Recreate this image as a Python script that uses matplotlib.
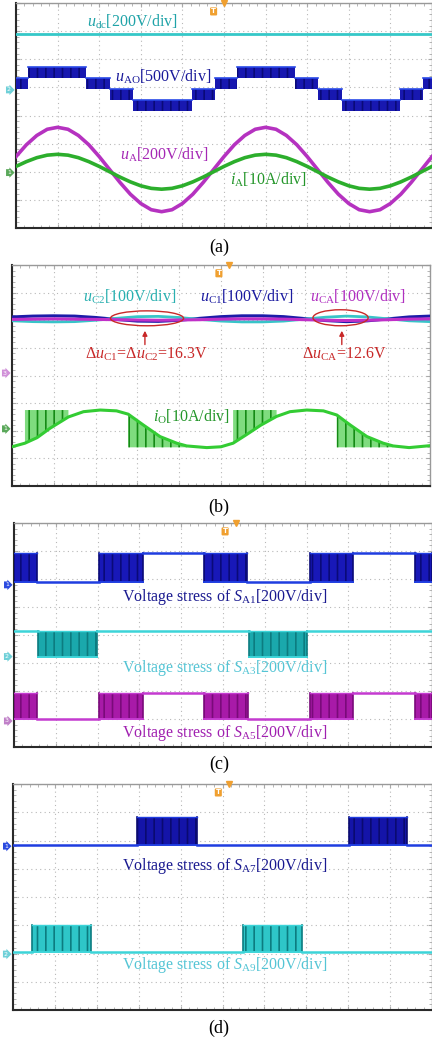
import numpy as np
import matplotlib
matplotlib.use('Agg')
import matplotlib.pyplot as plt
from matplotlib.patches import Ellipse

plt.rcParams['font.family'] = ['Liberation Serif', 'DejaVu Serif']
plt.rcParams['mathtext.fontset'] = 'custom'
plt.rcParams['mathtext.rm'] = 'Liberation Serif'
plt.rcParams['mathtext.it'] = 'Liberation Serif:italic'
plt.rcParams['mathtext.bf'] = 'Liberation Serif:bold'
plt.rcParams['hatch.linewidth'] = 1.2

# ---------------- data (screen divisions) ----------------
# panel (a)
a_x = np.arange(0, 10.001, 0.25)
udc_level = 6.9
uA_vals = [2.54, 2.96, 3.29, 3.51, 3.58, 3.51, 3.29, 2.96, 2.54, 2.08,
           1.62, 1.20, 0.87, 0.65, 0.58, 0.65, 0.87, 1.20, 1.62, 2.08,
           2.54, 2.96, 3.29, 3.51, 3.58, 3.51, 3.29, 2.96, 2.54, 2.08,
           1.62, 1.20, 0.87, 0.65, 0.58, 0.65, 0.87, 1.20, 1.62, 2.08, 2.54]
iA_vals = [2.19, 2.36, 2.50, 2.59, 2.62, 2.59, 2.50, 2.36, 2.19, 2.00,
           1.81, 1.64, 1.50, 1.41, 1.38, 1.41, 1.50, 1.64, 1.81, 2.00,
           2.19, 2.36, 2.50, 2.59, 2.62, 2.59, 2.50, 2.36, 2.19, 2.00,
           1.81, 1.64, 1.50, 1.41, 1.38, 1.41, 1.50, 1.64, 1.81, 2.00, 2.19]
uao_levels = [4.15, 4.55, 4.93, 5.33, 5.72]
uao_edges = [0, 0.29, 1.68, 2.26, 2.81, 4.23, 4.78, 5.31, 6.71, 7.26, 7.83, 9.23, 9.78, 10]
uao_lower = [2, 3, 2, 1, 0, 1, 2, 3, 2, 1, 0, 1, 2]

# panel (b)
b_x = np.arange(0, 10.001, 0.5)
uC1_vals = [6.12, 6.15, 6.16, 6.15, 6.10, 6.03, 5.97, 5.96, 6.00, 6.07, 6.13,
            6.16, 6.16, 6.13, 6.06, 5.99, 5.95, 5.98, 6.05, 6.12, 6.15]
uC2_vals = [5.98, 5.95, 5.94, 5.95, 6.00, 6.07, 6.13, 6.14, 6.10, 6.03, 5.97,
            5.94, 5.94, 5.97, 6.04, 6.11, 6.15, 6.12, 6.05, 5.98, 5.95]
uCA_vals = [6.03, 6.04, 6.05, 6.04, 6.03, 6.02, 6.01, 6.00, 6.01, 6.02, 6.04,
            6.05, 6.05, 6.04, 6.02, 6.00, 5.99, 6.00, 6.02, 6.04, 6.05]
io_x = [0.0, 0.31, 0.6, 0.91, 1.35, 1.71, 2.11, 2.5, 2.78, 3.14, 3.54, 3.94, 4.18, 4.66, 5.0,
        5.29, 5.6, 5.95, 6.33, 6.65, 7.05, 7.45, 7.77, 8.09, 8.49, 8.88, 9.12, 9.5, 10.0]
io_y = [1.42, 1.55, 1.75, 2.09, 2.50, 2.69, 2.75, 2.72, 2.60, 2.21, 1.79, 1.55, 1.45, 1.39, 1.42,
        1.55, 1.85, 2.20, 2.52, 2.69, 2.75, 2.72, 2.57, 2.21, 1.79, 1.55, 1.45, 1.39, 1.46]
io_rise_bands = [(0.31, 1.35), (5.29, 6.33)]
io_fall_bands = [(2.78, 4.18), (7.77, 9.12)]
io_top, io_bottom = 2.75, 1.40

# panel (c)  states: 0 low, 1 high, 2 switching
sa1_edges = [0, 0.54, 2.04, 3.08, 4.55, 5.58, 7.08, 8.12, 9.59, 10]
sa1_states = [2, 0, 2, 1, 2, 0, 2, 1, 2]
sa1_low, sa1_high = 5.90, 6.94
sa3_edges = [0, 0.58, 1.99, 5.63, 7.02, 10]
sa3_states = [1, 2, 1, 2, 1]
sa3_low, sa3_high = 3.23, 4.15
sa5_edges = [0, 0.56, 2.04, 3.08, 4.55, 5.60, 7.08, 8.12, 9.59, 10]
sa5_states = [2, 0, 2, 1, 2, 0, 2, 1, 2]
sa5_low, sa5_high = 0.99, 1.92

# panel (d)
sa7_edges = [0, 2.97, 4.40, 8.01, 9.41, 10]
sa7_states = [0, 2, 0, 2, 0]
sa7_low, sa7_high = 5.84, 6.84
sa9_edges = [0, 0.46, 1.85, 5.50, 6.89, 10]
sa9_states = [0, 2, 0, 2, 0]
sa9_low, sa9_high = 2.04, 3.01

# ---------------- figure ----------------
W, H = 432, 1042
fig = plt.figure(figsize=(W / 100, H / 100), dpi=100)
FS = 11.5


def make_ax(x0, y0, x1, y1):
    ax = fig.add_axes([x0 / W, 1 - y1 / H, (x1 - x0) / W, (y1 - y0) / H])
    ax.set_xlim(0, 10)
    ax.set_ylim(0, 8)
    ax.set_xticks(range(11))
    ax.set_yticks(range(9))
    ax.set_xticks(np.arange(0, 10.01, 0.2), minor=True)
    ax.set_yticks(np.arange(0, 8.01, 0.2), minor=True)
    ax.grid(True, which='major', ls=(0, (1, 3)), color='#b8b8b8', lw=0.8)
    ax.tick_params(which='both', direction='in', top=True, right=True,
                   labelleft=False, labelbottom=False, color='#aaaaaa')
    ax.tick_params(which='major', length=3, width=0.8)
    ax.tick_params(which='minor', length=2, width=0.6)
    for s in ('left', 'bottom'):
        ax.spines[s].set_color('#2a2a2a')
        ax.spines[s].set_linewidth(1.5)
    for s in ('top', 'right'):
        ax.spines[s].set_color('#999999')
        ax.spines[s].set_linewidth(1.0)
    ax.set_axisbelow(True)
    return ax


def trig(ax, xd):
    ax.text(xd, 7.7, 'T', fontsize=5, color='white', ha='center', va='center',
            fontweight='bold', family='DejaVu Sans',
            bbox=dict(boxstyle='round,pad=0.15', fc='#f0a030', ec='none'), zorder=10)
    ax.plot([xd + 0.25], [8.0], marker='v', ms=5, color='#f0a030', clip_on=False, zorder=10)


def chmark(ax, y, color, label=''):
    ax.text(-0.17, y, label, fontsize=4.5, color='white', ha='center', va='center',
            family='DejaVu Sans', clip_on=False,
            bbox=dict(boxstyle='rarrow,pad=0.15', fc=color, ec='none'), zorder=10)


def pulse(ax, edges, states, low, high, line_c, fill_c, hatch_c, lw=1.8):
    for x0, x1, s in zip(edges[:-1], edges[1:], states):
        if s == 2:
            ax.fill_between([x0, x1], [low, low], [high, high], facecolor=fill_c,
                            edgecolor=hatch_c, hatch='||', linewidth=0, zorder=3)
            ax.plot([x0, x0], [low, high], color=hatch_c, lw=1.2, zorder=3)
            ax.plot([x1, x1], [low, high], color=hatch_c, lw=1.2, zorder=3)
            ax.plot([x0, x1], [low, low], color=line_c, lw=1.4, zorder=4)
            ax.plot([x0, x1], [high, high], color=line_c, lw=1.0, zorder=4)
        else:
            lvl = high if s == 1 else low
            ax.plot([x0, x1], [lvl, lvl], color=line_c, lw=lw, zorder=4)


# ---------------- panel (a) ----------------
axa = make_ax(16, 3, 432, 228)
axa.plot([0, 10], [udc_level, udc_level], color='#35c8c8', lw=2.0, zorder=4)
for x0, x1, lo in zip(uao_edges[:-1], uao_edges[1:], uao_lower):
    axa.fill_between([x0, x1], [uao_levels[lo]] * 2, [uao_levels[lo + 1]] * 2,
                     facecolor='#1818b0', edgecolor='#0a0a78', hatch='||',
                     linewidth=0, zorder=3)
    axa.plot([x0, x1], [uao_levels[lo + 1]] * 2, color='#2a4ae8', lw=1.2, zorder=4)
axa.plot(a_x, uA_vals, color='#b532c0', lw=2.6, zorder=4)
axa.plot(a_x, iA_vals, color='#2cae2c', lw=2.6, zorder=5)
axa.text(1.71, 7.33, r'$u_{\mathrm{dc}}$[200V/div]', color='#1fa3a8', fontsize=FS, va='center')
axa.text(2.38, 5.37, r'$u_{\mathrm{AO}}$[500V/div]', color='#1a1a9a', fontsize=FS, va='center', zorder=6)
axa.text(2.5, 2.6, r'$u_{\mathrm{A}}$[200V/div]', color='#a528b5', fontsize=FS, va='center', zorder=6)
axa.text(5.14, 1.71, r'$i_{\mathrm{A}}$[10A/div]', color='#24962a', fontsize=FS, va='center', zorder=6)
trig(axa, 4.75)
chmark(axa, 4.91, '#6fd0d8', '2')
chmark(axa, 1.97, '#5aa85a', '1')

# ---------------- panel (b) ----------------
axb = make_ax(12, 265, 430, 486)
axb.plot(b_x, uC1_vals, color='#1c1ca8', lw=2.2, zorder=4)
axb.plot(b_x, uC2_vals, color='#38c4c8', lw=2.0, zorder=4)
axb.plot(b_x, uCA_vals, color='#c030c8', lw=2.2, zorder=5)
io_xa, io_ya = np.array(io_x), np.array(io_y)
for a, b in io_rise_bands:
    m = (io_xa >= a) & (io_xa <= b)
    axb.fill_between(io_xa[m], io_ya[m], io_top, facecolor='#7fdc7f',
                     edgecolor='#158a15', hatch='||', linewidth=0, zorder=3)
for a, b in io_fall_bands:
    m = (io_xa >= a) & (io_xa <= b)
    axb.fill_between(io_xa[m], io_bottom, io_ya[m], facecolor='#7fdc7f',
                     edgecolor='#158a15', hatch='||', linewidth=0, zorder=3)
axb.plot(io_x, io_y, color='#33cc33', lw=2.2, zorder=4)
axb.add_patch(Ellipse((3.23, 6.07), 1.75, 0.54, fill=False, ec='#c82828', lw=1.0, zorder=6))
axb.add_patch(Ellipse((7.86, 6.09), 1.32, 0.58, fill=False, ec='#c82828', lw=1.0, zorder=6))
for xa in (3.18, 7.89):
    axb.annotate('', xy=(xa, 5.72), xytext=(xa, 5.02),
                 arrowprops=dict(arrowstyle='-|>', color='#c82828', lw=1.0,
                                 mutation_scale=7), zorder=6)
axb.text(1.70, 6.85, r'$u_{\mathrm{C2}}$[100V/div]', color='#2ab0b0', fontsize=FS, va='center')
axb.text(4.50, 6.85, r'$u_{\mathrm{C1}}$[100V/div]', color='#1a1aa0', fontsize=FS, va='center')
axb.text(7.13, 6.85, r'$u_{\mathrm{CA}}$[100V/div]', color='#b030c0', fontsize=FS, va='center')
axb.text(1.75, 4.75, r'Δ$u_{\mathrm{C1}}$=Δ$u_{\mathrm{C2}}$=16.3V', color='#c82828', fontsize=FS, va='center')
axb.text(6.94, 4.75, r'Δ$u_{\mathrm{CA}}$=12.6V', color='#c82828', fontsize=FS, va='center')
axb.text(3.37, 2.52, r'$i_{\mathrm{O}}$[10A/div]', color='#24962a', fontsize=FS, va='center', zorder=6)
trig(axb, 4.95)
chmark(axb, 4.09, '#d090d8', '3')
chmark(axb, 2.07, '#5aa85a', '1')

# ---------------- panel (c) ----------------
axc = make_ax(14, 523, 432, 747)
pulse(axc, sa1_edges, sa1_states, sa1_low, sa1_high, '#1f3de0', '#1818b8', '#0a0a78')
pulse(axc, sa3_edges, sa3_states, sa3_low, sa3_high, '#3cd4d8', '#1aa8ac', '#0c7c80')
pulse(axc, sa5_edges, sa5_states, sa5_low, sa5_high, '#c43ad0', '#a81aa8', '#7a0a7a')
axc.text(5.05, 5.36, r'Voltage stress of $S_{\mathrm{A1}}$[200V/div]', color='#1a1a90',
         fontsize=FS, ha='center', va='center')
axc.text(5.05, 2.82, r'Voltage stress of $S_{\mathrm{A3}}$[200V/div]', color='#55c5d5',
         fontsize=FS, ha='center', va='center')
axc.text(5.05, 0.50, r'Voltage stress of $S_{\mathrm{A5}}$[200V/div]', color='#a020b0',
         fontsize=FS, ha='center', va='center')
trig(axc, 5.05)
chmark(axc, 5.79, '#2a4ae0', '1')
chmark(axc, 3.23, '#6fd0d8', '2')
chmark(axc, 0.93, '#c080c8', '3')

# ---------------- panel (d) ----------------
axd = make_ax(13, 784, 432, 1010)
pulse(axd, sa7_edges, sa7_states, sa7_low, sa7_high, '#1f3de0', '#1414a8', '#0a0a70')
pulse(axd, sa9_edges, sa9_states, sa9_low, sa9_high, '#3cd4d8', '#2ec6c8', '#0c7c80')
axd.text(5.06, 5.11, r'Voltage stress of $S_{\mathrm{A7}}$[200V/div]', color='#1a1a90',
         fontsize=FS, ha='center', va='center')
axd.text(5.06, 1.59, r'Voltage stress of $S_{\mathrm{A9}}$[200V/div]', color='#55c5d5',
         fontsize=FS, ha='center', va='center')
trig(axd, 4.9)
chmark(axd, 5.80, '#2a4ae0', '1')
chmark(axd, 1.98, '#6fd0d8', '2')

# panel captions
for lab, y in (('(a)', 247), ('(b)', 507), ('(c)', 764), ('(d)', 1028)):
    fig.text(219 / W, 1 - y / H, lab, ha='center', va='center', fontsize=13)

fig.savefig('out.png', dpi=100)
